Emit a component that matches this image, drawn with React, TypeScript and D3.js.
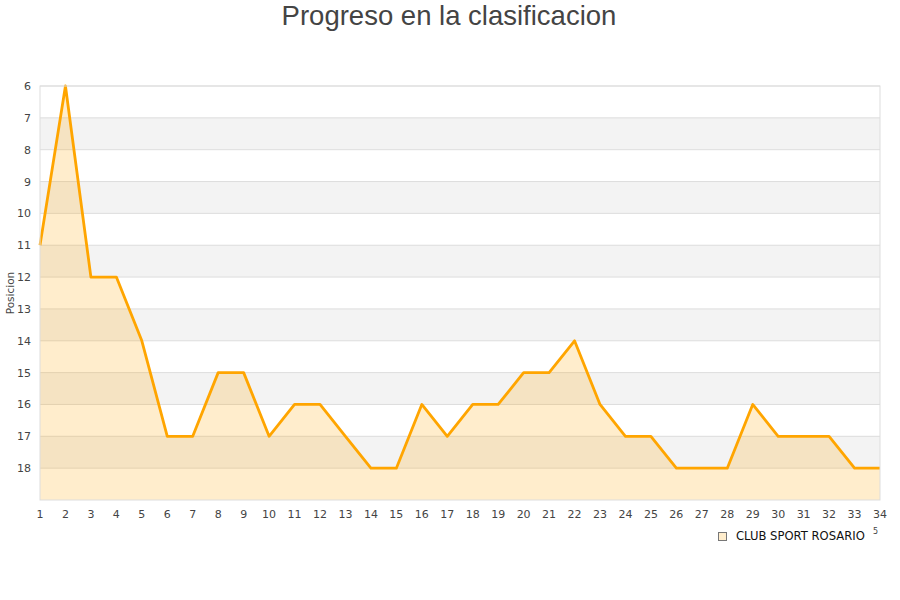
import React from "react";
import * as d3 from "d3";

const jornadas: number[] = Array.from({ length: 34 }, (_, i) => i + 1);
const posiciones: number[] = [
  11, 6, 12, 12, 14, 17, 17, 15, 15, 17, 16, 16, 17, 18, 18, 16, 17, 16, 16, 15,
  15, 14, 16, 17, 17, 18, 18, 18, 16, 17, 17, 17, 18, 18,
];
const yTicks: number[] = [6, 7, 8, 9, 10, 11, 12, 13, 14, 15, 16, 17, 18];
const title = "Progreso en la clasificacion";
const yLabel = "Posicion";
const seriesName = "CLUB SPORT ROSARIO";

export default function App() {
  const W = 900, H = 600;
  const left = 40, right = 880, top = 86, bottom = 500;
  const x = d3.scaleLinear().domain([1, 34]).range([left, right]);
  const y = d3.scaleLinear().domain([6, 19]).range([top, bottom]);
  const data = jornadas.map((j, i) => ({ j, p: posiciones[i] }));
  const line = d3.line<{ j: number; p: number }>().x(d => x(d.j)).y(d => y(d.p));
  const area = d3
    .area<{ j: number; p: number }>()
    .x(d => x(d.j))
    .y0(y(19))
    .y1(d => y(d.p));
  const bands = d3.range(6, 19);
  const font = "DejaVu Sans, sans-serif";
  return (
    <svg width={W} height={H} style={{ position: "absolute", left: 0, top: 0, background: "#fff" }}>
      <text x={449} y={25} textAnchor="middle" fontFamily="Liberation Sans, Arial, sans-serif" fontSize={27.5} fill="#444">
        {title}
      </text>
      {bands.map(b => (
        <rect key={b} x={left} y={y(b)} width={right - left} height={y(b + 1) - y(b)} fill={b % 2 === 1 ? "#f3f3f3" : "#ffffff"} />
      ))}
      {yTicks.map(t => (
        <line key={"g" + t} x1={left} x2={right} y1={y(t)} y2={y(t)} stroke="#dddddd" strokeWidth={1} />
      ))}
      <path d={area(data) || ""} fill="rgba(255,165,0,0.2)" />
      <path d={line(data) || ""} fill="none" stroke="#ffa500" strokeWidth={2.8} strokeLinejoin="round" />
      <rect x={left} y={top} width={right - left} height={bottom - top} fill="none" stroke="#dddddd" strokeWidth={1} />
      {yTicks.map(t => (
        <text key={"y" + t} x={31} y={y(t) + 4} textAnchor="end" fontFamily={font} fontSize={11} fill="#444">
          {t}
        </text>
      ))}
      {jornadas.map(j => (
        <text key={"x" + j} x={x(j)} y={518} textAnchor="middle" fontFamily={font} fontSize={11} fill="#444">
          {j}
        </text>
      ))}
      <text transform={`translate(14,293) rotate(-90)`} textAnchor="middle" fontFamily={font} fontSize={10.5} fill="#444">
        {yLabel}
      </text>
      <rect x={718.5} y={532.5} width={8} height={8} fill="rgba(255,165,0,0.2)" stroke="#777" strokeWidth={1} />
      <text x={736} y={540} fontFamily={font} fontSize={11.6} fill="#111">
        {seriesName}
      </text>
      <text x={873} y={534} fontFamily={font} fontSize={8} fill="#444">5</text>
    </svg>
  );
}
